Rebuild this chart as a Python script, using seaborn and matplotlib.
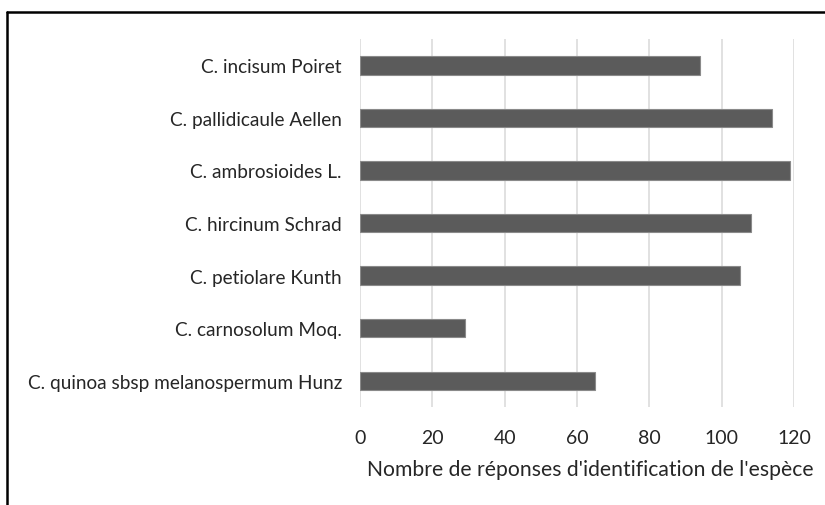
import matplotlib
matplotlib.use("Agg")
import matplotlib.pyplot as plt
from matplotlib.lines import Line2D
import seaborn as sns
import pandas as pd

species = [
    "C. incisum Poiret",
    "C. pallidicaule Aellen",
    "C. ambrosioides L.",
    "C. hircinum Schrad",
    "C. petiolare Kunth",
    "C. carnosolum Moq.",
    "C. quinoa sbsp melanospermum Hunz",
]
responses = [94, 114, 119, 108, 105, 29, 65]
x_ticks = [0, 20, 40, 60, 80, 100, 120]

df = pd.DataFrame({"espece": species, "reponses": responses})

sns.set_theme(style="white")
plt.rcParams["font.family"] = ["Lato", "DejaVu Sans"]

fig = plt.figure(figsize=(8.25, 5.06), dpi=100)
ax = fig.add_axes([0.4364, 0.1937, 0.5260, 0.7272])

sns.barplot(data=df, x="reponses", y="espece", orient="h", color="#5b5b5b",
            width=0.35, edgecolor="#8a8a8a", linewidth=0.8, saturation=1, ax=ax)

ax.set_xlim(0, 120)
ax.set_xticks(x_ticks)
ax.set_xticklabels([str(t) for t in x_ticks])
ax.grid(axis="x", color="#d9d9d9", linewidth=1.1)
ax.set_axisbelow(True)
for s in ax.spines.values():
    s.set_visible(False)
ax.tick_params(axis="both", length=0, colors="#262626")
ax.tick_params(axis="x", pad=16, labelsize=14)
ax.tick_params(axis="y", pad=13, labelsize=13.7)
ax.set_ylabel("")
ax.set_xlabel("Nombre de réponses d'identification de l'espèce",
              fontsize=15.2, color="#262626")
ax.xaxis.set_label_coords(0.53, -0.142)

# frame lines along the top and left edge of the figure
fig.add_artist(Line2D([7 / 825, 1.0], [1 - 13 / 506, 1 - 13 / 506],
                      transform=fig.transFigure, color="black", linewidth=1.8))
fig.add_artist(Line2D([7 / 825, 7 / 825], [0.0, 1 - 13 / 506],
                      transform=fig.transFigure, color="black", linewidth=1.8))

fig.savefig("out.png", dpi=100, facecolor="white")
